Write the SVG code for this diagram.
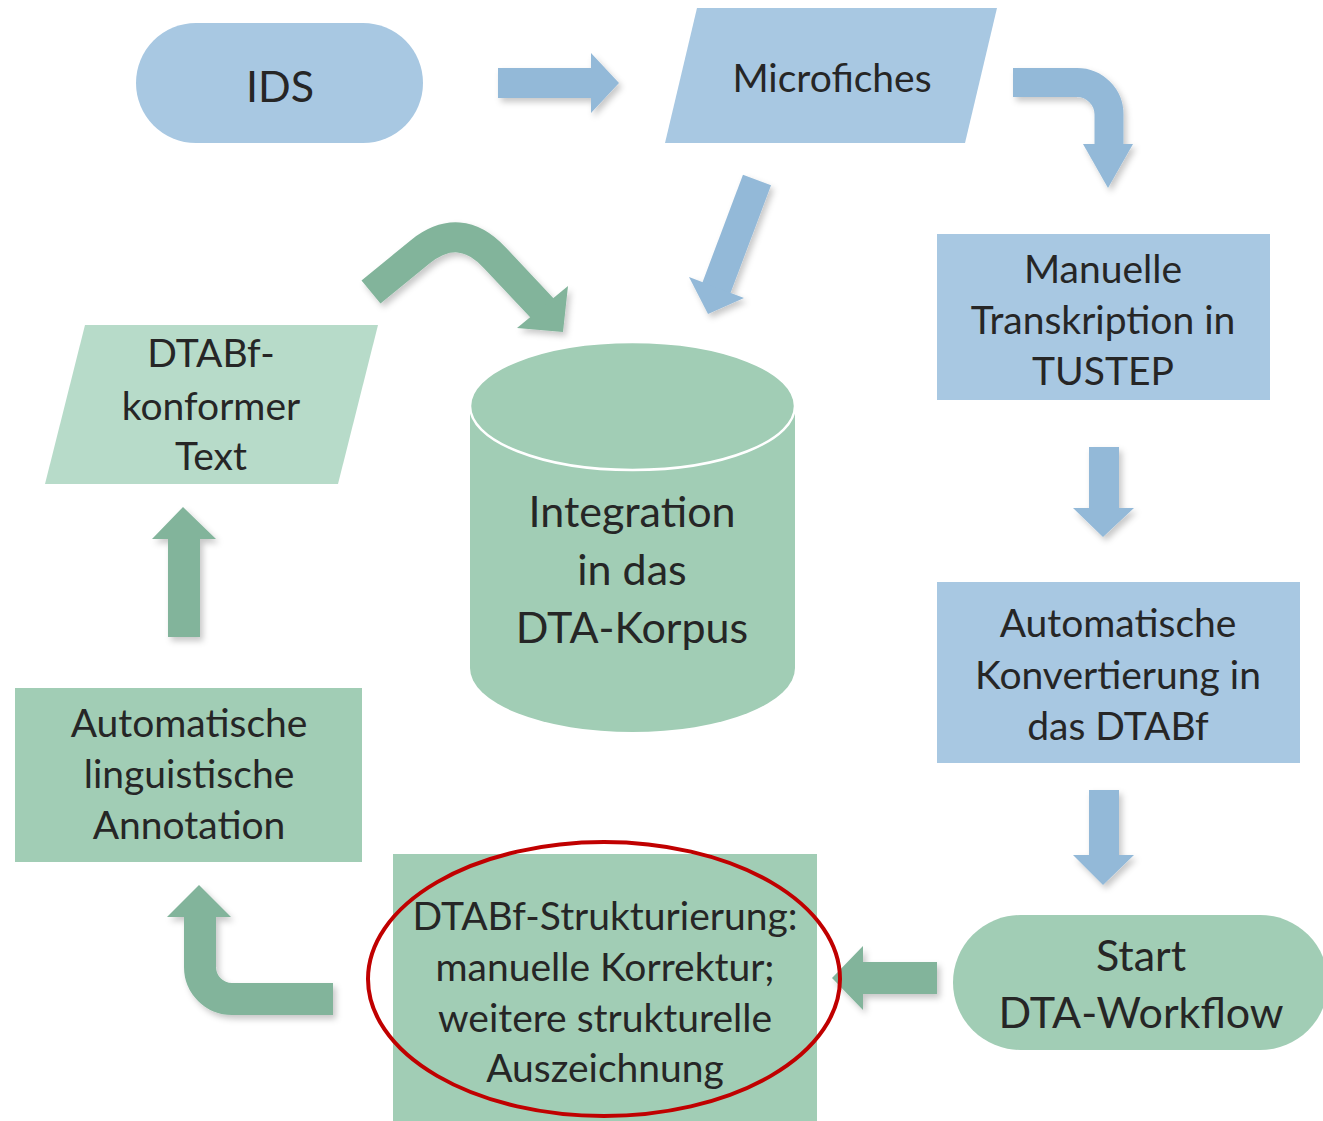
<svg xmlns="http://www.w3.org/2000/svg" width="1323" height="1121" viewBox="0 0 1323 1121">
<defs>
<filter id="sh" x="-30%" y="-30%" width="160%" height="160%">
<feDropShadow dx="3" dy="4" stdDeviation="3" flood-color="#000" flood-opacity="0.22"/>
</filter>
</defs>
<style>
.blue{fill:#a8c8e2}
.green{fill:#a1cdb5}
.lgreen{fill:#b7dbc9}
.ab{fill:#93b9d8}
.ag{fill:#82b49b}
.sb{fill:none;stroke:#93b9d8;stroke-linecap:butt}
.sg{fill:none;stroke:#82b49b;stroke-linecap:butt}
text{font-family:Lato,"Liberation Sans",sans-serif;fill:#262626;text-anchor:middle}
.t{font-size:39px}
.tl{font-size:43px}
</style>
<rect width="1323" height="1121" fill="#fff"/>

<g id="connectors" filter="url(#sh)">
<polygon class="ab" points="498,68 591,68 591,53 619,83 591,113 591,98 498,98"/>
<g id="arrow-micro-transkription">
<path class="sb" stroke-width="29" d="M1013,82.5 H1077 A32,32 0 0 1 1109,114.5 V145"/>
<polygon class="ab" points="1083,144 1133,144 1108,188"/>
</g>
<g id="arrow-micro-korpus">
<path class="sb" stroke-width="30" d="M757,180 L716,289"/>
<polygon class="ab" points="689,277 744,298 708,314"/>
</g>
<polygon class="ab" points="1089,447 1119,447 1119,508 1134,508 1103,537 1073,508 1089,508"/>
<polygon class="ab" points="1089,790 1119,790 1119,855 1134,855 1103,885 1073,855 1089,855"/>
<polygon class="ag" points="937,962 863,962 863,946 832,978 863,1010 863,994 937,994"/>
<g id="arrow-struktur-annotation">
<path class="sg" stroke-width="32" d="M333,999 H232 A32,32 0 0 1 200,967 V916"/>
<polygon class="ag" points="167,917 231,917 199,885"/>
</g>
<polygon class="ag" points="168,637 200,637 200,539 216,539 183,507 152,539 168,539"/>
<g id="arrow-text-korpus">
<path class="sg" stroke-width="30" d="M371,292 L420,252 Q460,220 495,258 L543,309"/>
<polygon class="ag" points="568,286 517,328 563,332"/>
</g>
</g>

<g id="ids">
<rect class="blue" x="136" y="23" width="287" height="120" rx="60"/>
<text class="tl" x="280" y="102">IDS</text>
</g>

<g id="microfiches">
<polygon class="blue" points="697,8 997,8 965,143 665,143"/>
<text class="t" x="832" y="92">Microfiches</text>
</g>

<g id="transkription">
<rect class="blue" x="937" y="234" width="333" height="166"/>
<text class="t" x="1103" y="283">Manuelle</text>
<text class="t" x="1103" y="334">Transkription in</text>
<text class="t" x="1103" y="385">TUSTEP</text>
</g>

<g id="konvertierung">
<rect class="blue" x="937" y="582" width="363" height="181"/>
<text class="t" x="1118" y="637">Automatische</text>
<text class="t" x="1118" y="689">Konvertierung in</text>
<text class="t" x="1118" y="740">das DTABf</text>
</g>

<g id="start">
<rect class="green" x="953" y="915" width="375" height="135" rx="67.5"/>
<text class="tl" x="1141" y="971">Start</text>
<text class="tl" x="1141" y="1028">DTA-Workflow</text>
</g>

<g id="strukturierung">
<rect class="green" x="393" y="854" width="424" height="267"/>
<text class="t" x="605" y="930">DTABf-Strukturierung:</text>
<text class="t" x="605" y="981">manuelle Korrektur;</text>
<text class="t" x="605" y="1032">weitere strukturelle</text>
<text class="t" x="605" y="1082">Auszeichnung</text>
<ellipse cx="604" cy="979" rx="236" ry="137" fill="none" stroke="#c00000" stroke-width="4"/>
</g>

<g id="annotation">
<rect class="green" x="15" y="688" width="347" height="174"/>
<text class="t" x="189" y="737">Automatische</text>
<text class="t" x="189" y="788">linguistische</text>
<text class="t" x="189" y="839">Annotation</text>
</g>

<g id="dtabf-text">
<polygon class="lgreen" points="85,325 378,325 338,484 45,484"/>
<text class="t" x="211" y="367">DTABf-</text>
<text class="t" x="211" y="420">konformer</text>
<text class="t" x="211" y="470">Text</text>
</g>

<g id="korpus">
<path class="green" d="M470,406 V668 A162.5,64 0 0 0 795,668 V406 Z"/>
<ellipse class="green" cx="632.5" cy="406" rx="162.5" ry="64" stroke="#fff" stroke-width="2.5"/>
<text class="tl" x="632" y="527">Integration</text>
<text class="tl" x="632" y="585">in das</text>
<text class="tl" x="632" y="643">DTA-Korpus</text>
</g>
</svg>
